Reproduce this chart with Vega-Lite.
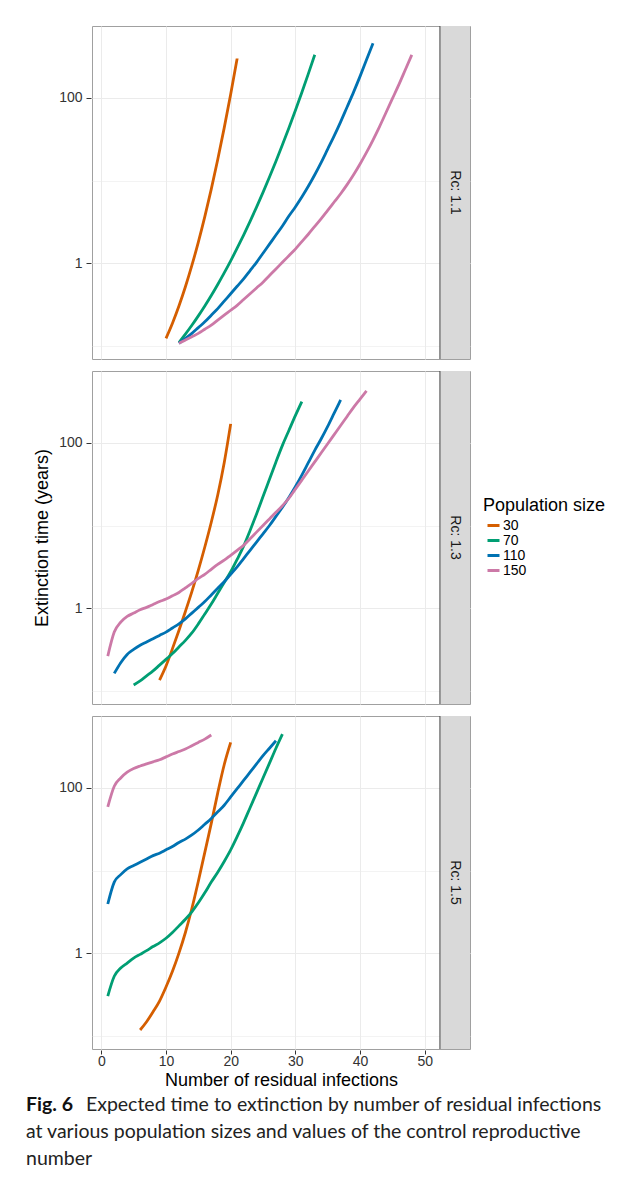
{
  "$schema": "https://vega.github.io/schema/vega-lite/v6.json",
  "background": "white",
  "padding": {"left": 25, "top": 25, "right": 0, "bottom": 0},
  "title": {
    "text": "Fig. 6",
    "subtitle": ["\u200b\u00a0\u00a0\u00a0\u00a0\u00a0\u00a0\u00a0\u00a0\u00a0\u00a0\u00a0\u00a0Expected time to extinction by number of residual infections", "at various population sizes and values of the control reproductive", "number"],
    "orient": "bottom",
    "anchor": "start",
    "frame": "bounds",
    "dx": -8,
    "font": "Lato",
    "fontSize": 19.5,
    "fontWeight": "bold",
    "color": "#111111",
    "subtitleFont": "Lato",
    "subtitleFontSize": 19.5,
    "subtitleColor": "#222222",
    "subtitleLineHeight": 27,
    "subtitlePadding": -19.5,
    "offset": 7
  },
  "data": {"values": [
    {"Rc":"Rc: 1.1","pop":30,"x":10,"y":0.123},{"Rc":"Rc: 1.1","pop":30,"x":11,"y":0.1875},{"Rc":"Rc: 1.1","pop":30,"x":12,"y":0.3027},{"Rc":"Rc: 1.1","pop":30,"x":13,"y":0.5176},{"Rc":"Rc: 1.1","pop":30,"x":14,"y":0.9376},{"Rc":"Rc: 1.1","pop":30,"x":15,"y":1.799},{"Rc":"Rc: 1.1","pop":30,"x":16,"y":3.656},{"Rc":"Rc: 1.1","pop":30,"x":17,"y":7.87},{"Rc":"Rc: 1.1","pop":30,"x":18,"y":17.95},{"Rc":"Rc: 1.1","pop":30,"x":19,"y":43.35},{"Rc":"Rc: 1.1","pop":30,"x":20,"y":110.9},{"Rc":"Rc: 1.1","pop":30,"x":21,"y":300.6},
    {"Rc":"Rc: 1.1","pop":70,"x":12,"y":0.1096},{"Rc":"Rc: 1.1","pop":70,"x":13,"y":0.1384},{"Rc":"Rc: 1.1","pop":70,"x":14,"y":0.177},{"Rc":"Rc: 1.1","pop":70,"x":15,"y":0.2301},{"Rc":"Rc: 1.1","pop":70,"x":16,"y":0.3034},{"Rc":"Rc: 1.1","pop":70,"x":17,"y":0.4064},{"Rc":"Rc: 1.1","pop":70,"x":18,"y":0.5521},{"Rc":"Rc: 1.1","pop":70,"x":19,"y":0.7621},{"Rc":"Rc: 1.1","pop":70,"x":20,"y":1.067},{"Rc":"Rc: 1.1","pop":70,"x":21,"y":1.517},{"Rc":"Rc: 1.1","pop":70,"x":22,"y":2.188},{"Rc":"Rc: 1.1","pop":70,"x":23,"y":3.206},{"Rc":"Rc: 1.1","pop":70,"x":24,"y":4.764},{"Rc":"Rc: 1.1","pop":70,"x":25,"y":7.194},{"Rc":"Rc: 1.1","pop":70,"x":26,"y":11.02},{"Rc":"Rc: 1.1","pop":70,"x":27,"y":17.14},{"Rc":"Rc: 1.1","pop":70,"x":28,"y":27.04},{"Rc":"Rc: 1.1","pop":70,"x":29,"y":43.35},{"Rc":"Rc: 1.1","pop":70,"x":30,"y":70.47},{"Rc":"Rc: 1.1","pop":70,"x":31,"y":116.4},{"Rc":"Rc: 1.1","pop":70,"x":32,"y":195.0},{"Rc":"Rc: 1.1","pop":70,"x":33,"y":331.9},
    {"Rc":"Rc: 1.1","pop":110,"x":12,"y":0.1072},{"Rc":"Rc: 1.1","pop":110,"x":13,"y":0.123},{"Rc":"Rc: 1.1","pop":110,"x":14,"y":0.1413},{"Rc":"Rc: 1.1","pop":110,"x":15,"y":0.166},{"Rc":"Rc: 1.1","pop":110,"x":16,"y":0.195},{"Rc":"Rc: 1.1","pop":110,"x":17,"y":0.2344},{"Rc":"Rc: 1.1","pop":110,"x":18,"y":0.2818},{"Rc":"Rc: 1.1","pop":110,"x":19,"y":0.3467},{"Rc":"Rc: 1.1","pop":110,"x":20,"y":0.4266},{"Rc":"Rc: 1.1","pop":110,"x":21,"y":0.5248},{"Rc":"Rc: 1.1","pop":110,"x":22,"y":0.6457},{"Rc":"Rc: 1.1","pop":110,"x":23,"y":0.8128},{"Rc":"Rc: 1.1","pop":110,"x":24,"y":1.023},{"Rc":"Rc: 1.1","pop":110,"x":25,"y":1.318},{"Rc":"Rc: 1.1","pop":110,"x":26,"y":1.698},{"Rc":"Rc: 1.1","pop":110,"x":27,"y":2.188},{"Rc":"Rc: 1.1","pop":110,"x":28,"y":2.818},{"Rc":"Rc: 1.1","pop":110,"x":29,"y":3.715},{"Rc":"Rc: 1.1","pop":110,"x":30,"y":4.786},{"Rc":"Rc: 1.1","pop":110,"x":31,"y":6.31},{"Rc":"Rc: 1.1","pop":110,"x":32,"y":8.511},{"Rc":"Rc: 1.1","pop":110,"x":33,"y":11.75},{"Rc":"Rc: 1.1","pop":110,"x":34,"y":16.6},{"Rc":"Rc: 1.1","pop":110,"x":35,"y":23.99},{"Rc":"Rc: 1.1","pop":110,"x":36,"y":34.67},{"Rc":"Rc: 1.1","pop":110,"x":37,"y":51.29},{"Rc":"Rc: 1.1","pop":110,"x":38,"y":77.62},{"Rc":"Rc: 1.1","pop":110,"x":39,"y":117.5},{"Rc":"Rc: 1.1","pop":110,"x":40,"y":182.0},{"Rc":"Rc: 1.1","pop":110,"x":41,"y":288.4},{"Rc":"Rc: 1.1","pop":110,"x":42,"y":457.1},
    {"Rc":"Rc: 1.1","pop":150,"x":12,"y":0.1072},{"Rc":"Rc: 1.1","pop":150,"x":13,"y":0.1175},{"Rc":"Rc: 1.1","pop":150,"x":14,"y":0.1288},{"Rc":"Rc: 1.1","pop":150,"x":15,"y":0.1413},{"Rc":"Rc: 1.1","pop":150,"x":16,"y":0.1585},{"Rc":"Rc: 1.1","pop":150,"x":17,"y":0.1778},{"Rc":"Rc: 1.1","pop":150,"x":18,"y":0.2042},{"Rc":"Rc: 1.1","pop":150,"x":19,"y":0.2344},{"Rc":"Rc: 1.1","pop":150,"x":20,"y":0.2692},{"Rc":"Rc: 1.1","pop":150,"x":21,"y":0.309},{"Rc":"Rc: 1.1","pop":150,"x":22,"y":0.3631},{"Rc":"Rc: 1.1","pop":150,"x":23,"y":0.4266},{"Rc":"Rc: 1.1","pop":150,"x":24,"y":0.5012},{"Rc":"Rc: 1.1","pop":150,"x":25,"y":0.5888},{"Rc":"Rc: 1.1","pop":150,"x":26,"y":0.7079},{"Rc":"Rc: 1.1","pop":150,"x":27,"y":0.8511},{"Rc":"Rc: 1.1","pop":150,"x":28,"y":1.023},{"Rc":"Rc: 1.1","pop":150,"x":29,"y":1.23},{"Rc":"Rc: 1.1","pop":150,"x":30,"y":1.479},{"Rc":"Rc: 1.1","pop":150,"x":31,"y":1.82},{"Rc":"Rc: 1.1","pop":150,"x":32,"y":2.239},{"Rc":"Rc: 1.1","pop":150,"x":33,"y":2.786},{"Rc":"Rc: 1.1","pop":150,"x":34,"y":3.467},{"Rc":"Rc: 1.1","pop":150,"x":35,"y":4.365},{"Rc":"Rc: 1.1","pop":150,"x":36,"y":5.495},{"Rc":"Rc: 1.1","pop":150,"x":37,"y":6.918},{"Rc":"Rc: 1.1","pop":150,"x":38,"y":8.913},{"Rc":"Rc: 1.1","pop":150,"x":39,"y":11.75},{"Rc":"Rc: 1.1","pop":150,"x":40,"y":15.85},{"Rc":"Rc: 1.1","pop":150,"x":41,"y":21.88},{"Rc":"Rc: 1.1","pop":150,"x":42,"y":30.9},{"Rc":"Rc: 1.1","pop":150,"x":43,"y":44.67},{"Rc":"Rc: 1.1","pop":150,"x":44,"y":66.07},{"Rc":"Rc: 1.1","pop":150,"x":45,"y":97.72},{"Rc":"Rc: 1.1","pop":150,"x":46,"y":144.5},{"Rc":"Rc: 1.1","pop":150,"x":47,"y":218.8},{"Rc":"Rc: 1.1","pop":150,"x":48,"y":331.1},
    {"Rc":"Rc: 1.3","pop":30,"x":9,"y":0.1349},{"Rc":"Rc: 1.3","pop":30,"x":10,"y":0.1995},{"Rc":"Rc: 1.3","pop":30,"x":11,"y":0.3236},{"Rc":"Rc: 1.3","pop":30,"x":12,"y":0.537},{"Rc":"Rc: 1.3","pop":30,"x":13,"y":0.912},{"Rc":"Rc: 1.3","pop":30,"x":14,"y":1.585},{"Rc":"Rc: 1.3","pop":30,"x":15,"y":2.884},{"Rc":"Rc: 1.3","pop":30,"x":16,"y":5.495},{"Rc":"Rc: 1.3","pop":30,"x":17,"y":10.96},{"Rc":"Rc: 1.3","pop":30,"x":18,"y":23.44},{"Rc":"Rc: 1.3","pop":30,"x":19,"y":57.54},{"Rc":"Rc: 1.3","pop":30,"x":20,"y":169.8},
    {"Rc":"Rc: 1.3","pop":70,"x":5,"y":0.1175},{"Rc":"Rc: 1.3","pop":70,"x":6,"y":0.1318},{"Rc":"Rc: 1.3","pop":70,"x":7,"y":0.1514},{"Rc":"Rc: 1.3","pop":70,"x":8,"y":0.1738},{"Rc":"Rc: 1.3","pop":70,"x":9,"y":0.2042},{"Rc":"Rc: 1.3","pop":70,"x":10,"y":0.2399},{"Rc":"Rc: 1.3","pop":70,"x":11,"y":0.2818},{"Rc":"Rc: 1.3","pop":70,"x":12,"y":0.3388},{"Rc":"Rc: 1.3","pop":70,"x":13,"y":0.4074},{"Rc":"Rc: 1.3","pop":70,"x":14,"y":0.5012},{"Rc":"Rc: 1.3","pop":70,"x":15,"y":0.6457},{"Rc":"Rc: 1.3","pop":70,"x":16,"y":0.8511},{"Rc":"Rc: 1.3","pop":70,"x":17,"y":1.122},{"Rc":"Rc: 1.3","pop":70,"x":18,"y":1.514},{"Rc":"Rc: 1.3","pop":70,"x":19,"y":2.042},{"Rc":"Rc: 1.3","pop":70,"x":20,"y":2.754},{"Rc":"Rc: 1.3","pop":70,"x":21,"y":3.89},{"Rc":"Rc: 1.3","pop":70,"x":22,"y":5.623},{"Rc":"Rc: 1.3","pop":70,"x":23,"y":8.71},{"Rc":"Rc: 1.3","pop":70,"x":24,"y":13.8},{"Rc":"Rc: 1.3","pop":70,"x":25,"y":22.39},{"Rc":"Rc: 1.3","pop":70,"x":26,"y":36.31},{"Rc":"Rc: 1.3","pop":70,"x":27,"y":58.88},{"Rc":"Rc: 1.3","pop":70,"x":28,"y":93.33},{"Rc":"Rc: 1.3","pop":70,"x":29,"y":141.3},{"Rc":"Rc: 1.3","pop":70,"x":30,"y":213.8},{"Rc":"Rc: 1.3","pop":70,"x":31,"y":316.2},
    {"Rc":"Rc: 1.3","pop":110,"x":2,"y":0.1622},{"Rc":"Rc: 1.3","pop":110,"x":3,"y":0.2188},{"Rc":"Rc: 1.3","pop":110,"x":4,"y":0.2754},{"Rc":"Rc: 1.3","pop":110,"x":5,"y":0.3162},{"Rc":"Rc: 1.3","pop":110,"x":6,"y":0.3548},{"Rc":"Rc: 1.3","pop":110,"x":7,"y":0.389},{"Rc":"Rc: 1.3","pop":110,"x":8,"y":0.4266},{"Rc":"Rc: 1.3","pop":110,"x":9,"y":0.4677},{"Rc":"Rc: 1.3","pop":110,"x":10,"y":0.5129},{"Rc":"Rc: 1.3","pop":110,"x":11,"y":0.5754},{"Rc":"Rc: 1.3","pop":110,"x":12,"y":0.6457},{"Rc":"Rc: 1.3","pop":110,"x":13,"y":0.7413},{"Rc":"Rc: 1.3","pop":110,"x":14,"y":0.871},{"Rc":"Rc: 1.3","pop":110,"x":15,"y":1.023},{"Rc":"Rc: 1.3","pop":110,"x":16,"y":1.202},{"Rc":"Rc: 1.3","pop":110,"x":17,"y":1.445},{"Rc":"Rc: 1.3","pop":110,"x":18,"y":1.738},{"Rc":"Rc: 1.3","pop":110,"x":19,"y":2.089},{"Rc":"Rc: 1.3","pop":110,"x":20,"y":2.57},{"Rc":"Rc: 1.3","pop":110,"x":21,"y":3.162},{"Rc":"Rc: 1.3","pop":110,"x":22,"y":3.981},{"Rc":"Rc: 1.3","pop":110,"x":23,"y":5.012},{"Rc":"Rc: 1.3","pop":110,"x":24,"y":6.31},{"Rc":"Rc: 1.3","pop":110,"x":25,"y":7.943},{"Rc":"Rc: 1.3","pop":110,"x":26,"y":10.0},{"Rc":"Rc: 1.3","pop":110,"x":27,"y":12.88},{"Rc":"Rc: 1.3","pop":110,"x":28,"y":16.6},{"Rc":"Rc: 1.3","pop":110,"x":29,"y":21.88},{"Rc":"Rc: 1.3","pop":110,"x":30,"y":29.51},{"Rc":"Rc: 1.3","pop":110,"x":31,"y":40.74},{"Rc":"Rc: 1.3","pop":110,"x":32,"y":57.54},{"Rc":"Rc: 1.3","pop":110,"x":33,"y":81.28},{"Rc":"Rc: 1.3","pop":110,"x":34,"y":112.2},{"Rc":"Rc: 1.3","pop":110,"x":35,"y":158.5},{"Rc":"Rc: 1.3","pop":110,"x":36,"y":229.1},{"Rc":"Rc: 1.3","pop":110,"x":37,"y":331.1},
    {"Rc":"Rc: 1.3","pop":150,"x":1,"y":0.263},{"Rc":"Rc: 1.3","pop":150,"x":2,"y":0.5129},{"Rc":"Rc: 1.3","pop":150,"x":3,"y":0.6761},{"Rc":"Rc: 1.3","pop":150,"x":4,"y":0.7943},{"Rc":"Rc: 1.3","pop":150,"x":5,"y":0.871},{"Rc":"Rc: 1.3","pop":150,"x":6,"y":0.955},{"Rc":"Rc: 1.3","pop":150,"x":7,"y":1.023},{"Rc":"Rc: 1.3","pop":150,"x":8,"y":1.109},{"Rc":"Rc: 1.3","pop":150,"x":9,"y":1.202},{"Rc":"Rc: 1.3","pop":150,"x":10,"y":1.288},{"Rc":"Rc: 1.3","pop":150,"x":11,"y":1.413},{"Rc":"Rc: 1.3","pop":150,"x":12,"y":1.549},{"Rc":"Rc: 1.3","pop":150,"x":13,"y":1.758},{"Rc":"Rc: 1.3","pop":150,"x":14,"y":1.995},{"Rc":"Rc: 1.3","pop":150,"x":15,"y":2.291},{"Rc":"Rc: 1.3","pop":150,"x":16,"y":2.57},{"Rc":"Rc: 1.3","pop":150,"x":17,"y":2.951},{"Rc":"Rc: 1.3","pop":150,"x":18,"y":3.388},{"Rc":"Rc: 1.3","pop":150,"x":19,"y":3.802},{"Rc":"Rc: 1.3","pop":150,"x":20,"y":4.365},{"Rc":"Rc: 1.3","pop":150,"x":21,"y":5.012},{"Rc":"Rc: 1.3","pop":150,"x":22,"y":5.754},{"Rc":"Rc: 1.3","pop":150,"x":23,"y":6.918},{"Rc":"Rc: 1.3","pop":150,"x":24,"y":8.318},{"Rc":"Rc: 1.3","pop":150,"x":25,"y":10.0},{"Rc":"Rc: 1.3","pop":150,"x":26,"y":12.02},{"Rc":"Rc: 1.3","pop":150,"x":27,"y":14.45},{"Rc":"Rc: 1.3","pop":150,"x":28,"y":17.38},{"Rc":"Rc: 1.3","pop":150,"x":29,"y":21.38},{"Rc":"Rc: 1.3","pop":150,"x":30,"y":27.54},{"Rc":"Rc: 1.3","pop":150,"x":31,"y":35.48},{"Rc":"Rc: 1.3","pop":150,"x":32,"y":45.71},{"Rc":"Rc: 1.3","pop":150,"x":33,"y":58.88},{"Rc":"Rc: 1.3","pop":150,"x":34,"y":75.86},{"Rc":"Rc: 1.3","pop":150,"x":35,"y":97.72},{"Rc":"Rc: 1.3","pop":150,"x":36,"y":125.9},{"Rc":"Rc: 1.3","pop":150,"x":37,"y":162.2},{"Rc":"Rc: 1.3","pop":150,"x":38,"y":208.9},{"Rc":"Rc: 1.3","pop":150,"x":39,"y":269.2},{"Rc":"Rc: 1.3","pop":150,"x":40,"y":338.8},{"Rc":"Rc: 1.3","pop":150,"x":41,"y":426.6},
    {"Rc":"Rc: 1.5","pop":30,"x":6,"y":0.1175},{"Rc":"Rc: 1.5","pop":30,"x":7,"y":0.1479},{"Rc":"Rc: 1.5","pop":30,"x":8,"y":0.195},{"Rc":"Rc: 1.5","pop":30,"x":9,"y":0.263},{"Rc":"Rc: 1.5","pop":30,"x":10,"y":0.389},{"Rc":"Rc: 1.5","pop":30,"x":11,"y":0.6026},{"Rc":"Rc: 1.5","pop":30,"x":12,"y":1.0},{"Rc":"Rc: 1.5","pop":30,"x":13,"y":1.778},{"Rc":"Rc: 1.5","pop":30,"x":14,"y":3.467},{"Rc":"Rc: 1.5","pop":30,"x":15,"y":7.413},{"Rc":"Rc: 1.5","pop":30,"x":16,"y":16.6},{"Rc":"Rc: 1.5","pop":30,"x":17,"y":37.15},{"Rc":"Rc: 1.5","pop":30,"x":18,"y":87.1},{"Rc":"Rc: 1.5","pop":30,"x":19,"y":190.5},{"Rc":"Rc: 1.5","pop":30,"x":20,"y":354.8},
    {"Rc":"Rc: 1.5","pop":70,"x":1,"y":0.302},{"Rc":"Rc: 1.5","pop":70,"x":2,"y":0.5248},{"Rc":"Rc: 1.5","pop":70,"x":3,"y":0.6607},{"Rc":"Rc: 1.5","pop":70,"x":4,"y":0.7586},{"Rc":"Rc: 1.5","pop":70,"x":5,"y":0.871},{"Rc":"Rc: 1.5","pop":70,"x":6,"y":0.9661},{"Rc":"Rc: 1.5","pop":70,"x":7,"y":1.072},{"Rc":"Rc: 1.5","pop":70,"x":8,"y":1.202},{"Rc":"Rc: 1.5","pop":70,"x":9,"y":1.334},{"Rc":"Rc: 1.5","pop":70,"x":10,"y":1.514},{"Rc":"Rc: 1.5","pop":70,"x":11,"y":1.778},{"Rc":"Rc: 1.5","pop":70,"x":12,"y":2.138},{"Rc":"Rc: 1.5","pop":70,"x":13,"y":2.57},{"Rc":"Rc: 1.5","pop":70,"x":14,"y":3.162},{"Rc":"Rc: 1.5","pop":70,"x":15,"y":4.074},{"Rc":"Rc: 1.5","pop":70,"x":16,"y":5.37},{"Rc":"Rc: 1.5","pop":70,"x":17,"y":7.244},{"Rc":"Rc: 1.5","pop":70,"x":18,"y":9.55},{"Rc":"Rc: 1.5","pop":70,"x":19,"y":12.88},{"Rc":"Rc: 1.5","pop":70,"x":20,"y":17.78},{"Rc":"Rc: 1.5","pop":70,"x":21,"y":25.7},{"Rc":"Rc: 1.5","pop":70,"x":22,"y":38.02},{"Rc":"Rc: 1.5","pop":70,"x":23,"y":57.54},{"Rc":"Rc: 1.5","pop":70,"x":24,"y":87.1},{"Rc":"Rc: 1.5","pop":70,"x":25,"y":131.8},{"Rc":"Rc: 1.5","pop":70,"x":26,"y":199.5},{"Rc":"Rc: 1.5","pop":70,"x":27,"y":302.0},{"Rc":"Rc: 1.5","pop":70,"x":28,"y":446.7},
    {"Rc":"Rc: 1.5","pop":110,"x":1,"y":3.936},{"Rc":"Rc: 1.5","pop":110,"x":2,"y":7.244},{"Rc":"Rc: 1.5","pop":110,"x":3,"y":8.913},{"Rc":"Rc: 1.5","pop":110,"x":4,"y":10.47},{"Rc":"Rc: 1.5","pop":110,"x":5,"y":11.48},{"Rc":"Rc: 1.5","pop":110,"x":6,"y":12.59},{"Rc":"Rc: 1.5","pop":110,"x":7,"y":13.8},{"Rc":"Rc: 1.5","pop":110,"x":8,"y":15.14},{"Rc":"Rc: 1.5","pop":110,"x":9,"y":16.22},{"Rc":"Rc: 1.5","pop":110,"x":10,"y":17.78},{"Rc":"Rc: 1.5","pop":110,"x":11,"y":19.5},{"Rc":"Rc: 1.5","pop":110,"x":12,"y":21.88},{"Rc":"Rc: 1.5","pop":110,"x":13,"y":23.99},{"Rc":"Rc: 1.5","pop":110,"x":14,"y":26.92},{"Rc":"Rc: 1.5","pop":110,"x":15,"y":30.9},{"Rc":"Rc: 1.5","pop":110,"x":16,"y":36.31},{"Rc":"Rc: 1.5","pop":110,"x":17,"y":42.66},{"Rc":"Rc: 1.5","pop":110,"x":18,"y":51.29},{"Rc":"Rc: 1.5","pop":110,"x":19,"y":61.66},{"Rc":"Rc: 1.5","pop":110,"x":20,"y":77.62},{"Rc":"Rc: 1.5","pop":110,"x":21,"y":97.72},{"Rc":"Rc: 1.5","pop":110,"x":22,"y":123.0},{"Rc":"Rc: 1.5","pop":110,"x":23,"y":154.9},{"Rc":"Rc: 1.5","pop":110,"x":24,"y":195.0},{"Rc":"Rc: 1.5","pop":110,"x":25,"y":245.5},{"Rc":"Rc: 1.5","pop":110,"x":26,"y":302.0},{"Rc":"Rc: 1.5","pop":110,"x":27,"y":371.5},
    {"Rc":"Rc: 1.5","pop":150,"x":1,"y":58.88},{"Rc":"Rc: 1.5","pop":150,"x":2,"y":104.7},{"Rc":"Rc: 1.5","pop":150,"x":3,"y":131.8},{"Rc":"Rc: 1.5","pop":150,"x":4,"y":154.9},{"Rc":"Rc: 1.5","pop":150,"x":5,"y":171.8},{"Rc":"Rc: 1.5","pop":150,"x":6,"y":184.1},{"Rc":"Rc: 1.5","pop":150,"x":7,"y":195.0},{"Rc":"Rc: 1.5","pop":150,"x":8,"y":206.5},{"Rc":"Rc: 1.5","pop":150,"x":9,"y":218.8},{"Rc":"Rc: 1.5","pop":150,"x":10,"y":237.1},{"Rc":"Rc: 1.5","pop":150,"x":11,"y":257.0},{"Rc":"Rc: 1.5","pop":150,"x":12,"y":275.4},{"Rc":"Rc: 1.5","pop":150,"x":13,"y":295.1},{"Rc":"Rc: 1.5","pop":150,"x":14,"y":323.6},{"Rc":"Rc: 1.5","pop":150,"x":15,"y":354.8},{"Rc":"Rc: 1.5","pop":150,"x":16,"y":389.0},{"Rc":"Rc: 1.5","pop":150,"x":17,"y":436.5}
  ]},
  "facet": {
    "row": {
      "field": "Rc", "type": "nominal",
      "header": {
        "title": "Extinction time (years)",
        "titleOrient": "left",
        "titleFont": "Liberation Sans",
        "titleFontSize": 18,
        "titleFontWeight": "normal",
        "titleColor": "#000000",
        "titlePadding": -4,
        "labels": false
      }
    }
  },
  "spacing": {"row": 10},
  "spec": {
    "width": 378,
    "height": 333,
    "layer": [
      {
        "mark": {"type": "line", "strokeWidth": 2.8, "interpolate": "monotone"},
        "encoding": {
          "x": {
            "field": "x", "type": "quantitative",
            "scale": {"domain": [-1.44, 57.0], "nice": false, "zero": false},
            "axis": {
              "title": "Number of residual infections",
              "values": [0, 5, 10, 15, 20, 25, 30, 35, 40, 45, 50],
              "labelExpr": "datum.value % 10 == 0 ? datum.label : ''",
              "labelOverlap": false,
              "tickColor": {"condition": {"test": "datum.value % 10 == 0", "value": "#333333"}, "value": "transparent"},
              "gridWidth": {"condition": {"test": "datum.value % 10 == 0", "value": 1}, "value": 0.6},
              "gridColor": "#ebebeb",
              "domain": false,
              "tickSize": 4,
              "labelPadding": 0,
              "labelFont": "Liberation Sans",
              "labelFontSize": 14,
              "labelColor": "#333333",
              "titleFont": "Liberation Sans",
              "titleFontSize": 18,
              "titleFontWeight": "normal",
              "titleColor": "#000000",
              "titlePadding": 3
            }
          },
          "y": {
            "field": "y", "type": "quantitative",
            "scale": {"type": "log", "domain": [0.0692, 741], "nice": false},
            "axis": {
              "title": null,
              "values": [0.1, 1, 10, 100],
              "labelExpr": "datum.value == 1 ? '1' : (datum.value == 100 ? '100' : '')",
              "labelOverlap": false,
              "tickColor": {"condition": {"test": "datum.value == 1 || datum.value == 100", "value": "#333333"}, "value": "transparent"},
              "gridWidth": {"condition": {"test": "datum.value == 1 || datum.value == 100", "value": 1}, "value": 0.6},
              "gridColor": "#ebebeb",
              "domain": false,
              "tickSize": 5,
              "labelPadding": 4,
              "labelFont": "Liberation Sans",
              "labelFontSize": 14,
              "labelColor": "#333333"
            }
          },
          "color": {
            "field": "pop", "type": "nominal",
            "scale": {"domain": [30, 70, 110, 150], "range": ["#D55E00", "#009E73", "#0072B2", "#CC79A7"]},
            "legend": {
              "title": "Population size",
              "orient": "none",
              "legendX": 391,
              "legendY": 471,
              "symbolType": "stroke",
              "symbolStrokeWidth": 3,
              "symbolSize": 144,
              "symbolOffset": 3,
              "labelOffset": 2,
              "rowPadding": 0,
              "titlePadding": 3,
              "padding": 0,
              "titleFont": "Liberation Sans",
              "titleFontSize": 18,
              "titleFontWeight": "normal",
              "titleColor": "#000000",
              "labelFont": "Liberation Sans",
              "labelFontSize": 14,
              "labelColor": "#000000"
            }
          }
        }
      },
      {
        "transform": [{"aggregate": [{"op": "count", "as": "n"}], "groupby": ["Rc"]}],
        "mark": {"type": "rect", "fill": "#d9d9d9"},
        "encoding": {"x": {"datum": 52.35}, "x2": {"datum": 57.0}}
      },
      {
        "transform": [{"aggregate": [{"op": "count", "as": "n"}], "groupby": ["Rc"]}],
        "mark": {"type": "rule", "color": "#444444", "strokeWidth": 1},
        "encoding": {"x": {"datum": 52.35}}
      },
      {
        "transform": [{"aggregate": [{"op": "count", "as": "n"}], "groupby": ["Rc"]}],
        "mark": {"type": "text", "angle": 90, "align": "center", "baseline": "middle", "font": "Liberation Sans", "fontSize": 14, "color": "#1a1a1a"},
        "encoding": {"x": {"datum": 54.67}, "text": {"field": "Rc"}}
      }
    ]
  },
  "config": {
    "font": "Liberation Sans",
    "view": {"stroke": "#a0a0a0", "strokeWidth": 1}
  }
}
